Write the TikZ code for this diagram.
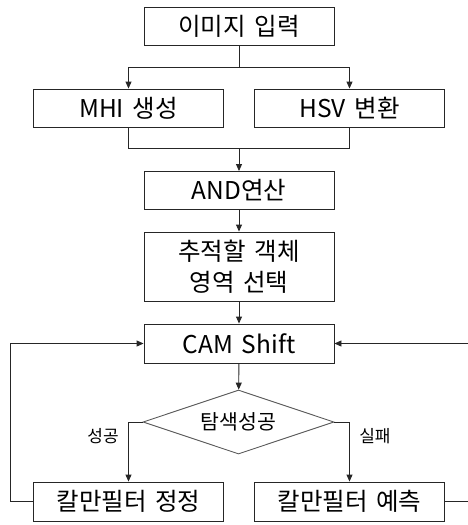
\documentclass[tikz,border=0pt]{standalone}
\usepackage{fontspec}
\setmainfont{Noto Sans CJK KR}[WordSpace=1.6]
\usetikzlibrary{arrows.meta,shapes.geometric}
\begin{document}
\begin{tikzpicture}[x=1pt,y=-1pt,
  box/.style={draw=black!85,line width=0.9pt,minimum width=190pt,minimum height=38pt,inner sep=0pt,font=\fontsize{24.5}{31}\selectfont,align=center,fill=white},
  dec/.style={draw=black!65,line width=0.9pt,diamond,aspect=3,minimum width=191pt,minimum height=64pt,inner sep=0pt,font=\fontsize{20.5}{24}\selectfont},
  conn/.style={draw=black!85,line width=0.9pt},
  arr/.style={conn,-{Triangle[length=7pt,width=6pt]}},
  lbl/.style={font=\fontsize{17}{20}\selectfont}]
\useasboundingbox (0,0) rectangle (468,525);
\node[box] (inp) at (239,26) {이미지 입력};
\node[box] (mhi) at (128.5,108) {MHI 생성};
\node[box] (hsv) at (349.5,108) {HSV 변환};
\node[box] (and) at (239,190.5) {AND연산};
\node[box,minimum height=69pt] (sel) at (239,266.5) {추적할 객체\\영역 선택};
\node[box,minimum height=39pt] (cam) at (239,343.5) {CAM Shift};
\node[dec] (dia) at (238.5,422) {탐색성공};
\node[box,minimum height=39pt] (kc) at (128.5,501.5) {칼만필터 정정};
\node[box,minimum height=39pt] (kp) at (349.5,501.5) {칼만필터 예측};
\coordinate (split) at (239,67);
\coordinate (merge) at (239,148);
\coordinate (lx) at (10,0);
\coordinate (rx) at (468,0);
\draw[conn] (inp.south) -- (split);
\draw[arr] (split) -| (mhi.north);
\draw[arr] (split) -| (hsv.north);
\draw[conn] (mhi.south) |- (merge);
\draw[conn] (hsv.south) |- (merge);
\draw[arr] (merge) -- (and.north);
\draw[arr] (and) -- (sel);
\draw[arr] (sel) -- (cam);
\draw[arr] (cam) -- (dia);
\draw[arr] (dia.west) -| node[lbl,pos=0.62,left=6pt] {성공} (kc.north);
\draw[arr] (dia.east) -| node[lbl,pos=0.62,right=6pt] {실패} (kp.north);
\draw[arr] (kc.west) -- (kc.west -| lx) -- (cam.west -| lx) -- (cam.west);
\draw[arr] (kp.east) -- (kp.east -| rx) -- (cam.east -| rx) -- (cam.east);
\end{tikzpicture}
\end{document}
